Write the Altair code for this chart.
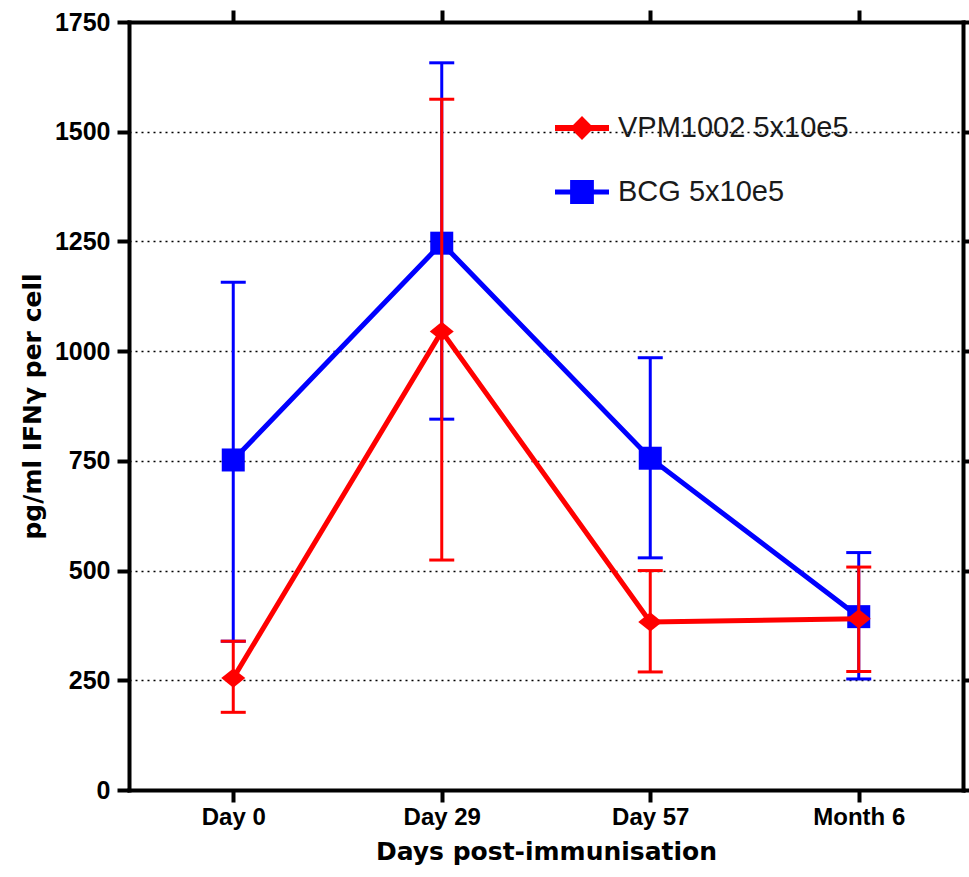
import altair as alt
import pandas as pd

# ---------------- data ----------------
categories = ["Day 0", "Day 29", "Day 57", "Month 6"]
series_names = ["VPM1002 5x10e5", "BCG 5x10e5"]

vpm_mean = [255, 1045, 383, 390]
vpm_low = [177, 524, 269, 270]
vpm_high = [339, 1574, 500, 508]

bcg_mean = [752, 1246, 756, 395]
bcg_low = [339, 845, 529, 253]
bcg_high = [1157, 1657, 985, 541]

y_ticks = [0, 250, 500, 750, 1000, 1250, 1500, 1750]

RED = "#ff0000"
BLUE = "#0000ff"

def series_df(name, mean, low, high):
    return pd.DataFrame({"day": categories, "series": name,
                         "mean": mean, "low": low, "high": high})

vpm_df = series_df(series_names[0], vpm_mean, vpm_low, vpm_high)
bcg_df = series_df(series_names[1], bcg_mean, bcg_low, bcg_high)
all_df = pd.concat([vpm_df, bcg_df], ignore_index=True)

# ---------------- scales / axes ----------------
xscale = alt.Scale(type="point", domain=categories, padding=0.5)
yscale = alt.Scale(domain=[0, 1750], nice=False, zero=True)

LABEL_FONT = "Liberation Sans"
TITLE_FONT = "DejaVu Sans"

axis_common = dict(domainColor="black", domainWidth=4, domainCap="square",
                   tickColor="black", tickWidth=4)

x_bottom = alt.Axis(orient="bottom", title="Days post-immunisation",
                    titleFont=TITLE_FONT, titleFontSize=25, titleFontWeight="bold",
                    titleColor="black", titlePadding=10,
                    labelFont=LABEL_FONT, labelFontSize=24, labelFontWeight="bold",
                    labelColor="black", labelPadding=3, labelAngle=0,
                    tickSize=12, grid=False, **axis_common)
x_top = alt.Axis(orient="top", title=None, labels=False, tickSize=12,
                 grid=False, **axis_common)
y_left = alt.Axis(orient="left", values=y_ticks, format="d",
                  title="pg/ml IFNγ per cell",
                  titleFont=TITLE_FONT, titleFontSize=25, titleFontWeight="bold",
                  titleColor="black", titlePadding=9,
                  labelFont=LABEL_FONT, labelFontSize=25, labelFontWeight="bold",
                  labelColor="black", labelPadding=7,
                  tickSize=12, grid=True, gridColor="black", gridDash=[2, 4],
                  gridWidth=1.5, gridOpacity=1, **axis_common)
y_right = alt.Axis(orient="right", values=y_ticks, title=None, labels=False,
                   tickSize=8, grid=False, **axis_common)

DIAMOND = "M-1,0L0,-0.8L1,0L0,0.8Z"
LEG_RED = ("M-1,-0.11L-0.33,-0.11L0,-0.44L0.33,-0.11L1,-0.11L1,0.11"
           "L0.33,0.11L0,0.44L-0.33,0.11L-1,0.11Z")
LEG_BLUE = ("M-1,-0.09L-0.44,-0.09L-0.44,-0.44L0.44,-0.44L0.44,-0.09L1,-0.09"
            "L1,0.09L0.44,0.09L0.44,0.44L-0.44,0.44L-0.44,0.09L-1,0.09Z")


def series_layers(df, color, shape, size, xaxis_a=None, yaxis_a=None,
                  xaxis_b=None, yaxis_b=None):
    base = alt.Chart(df)
    rules = base.mark_rule(color=color, strokeWidth=3).encode(
        x=alt.X("day:N", scale=xscale, axis=xaxis_a, sort=categories),
        y=alt.Y("low:Q", scale=yscale, axis=yaxis_a),
        y2="high:Q",
    )
    cap_low = base.mark_tick(color=color, size=25, thickness=3, opacity=1).encode(
        x=alt.X("day:N", scale=xscale, axis=xaxis_b, sort=categories),
        y=alt.Y("low:Q", scale=yscale, axis=yaxis_b),
    )
    cap_high = base.mark_tick(color=color, size=25, thickness=3, opacity=1).encode(
        x=alt.X("day:N", scale=xscale, axis=None, sort=categories),
        y=alt.Y("high:Q", scale=yscale, axis=None),
    )
    line = base.mark_line(color=color, strokeWidth=5).encode(
        x=alt.X("day:N", scale=xscale, axis=None, sort=categories),
        y=alt.Y("mean:Q", scale=yscale, axis=None),
    )
    pts = base.mark_point(filled=True, shape=shape, size=size, color=color,
                          opacity=1, strokeWidth=0).encode(
        x=alt.X("day:N", scale=xscale, axis=None, sort=categories),
        y=alt.Y("mean:Q", scale=yscale, axis=None),
    )
    return [rules, cap_low, cap_high, line, pts]


blue_layers = series_layers(bcg_df, BLUE, "square", 529,
                            xaxis_a=x_bottom, yaxis_a=y_left,
                            xaxis_b=x_top, yaxis_b=y_right)
red_layers = series_layers(vpm_df, RED, DIAMOND, 576)

leg = alt.Legend(title=None, orient="none", legendX=426, legendY=79,
                 symbolSize=2916, symbolStrokeWidth=0,
                 labelFont=LABEL_FONT, labelFontSize=29, labelColor="#1a1a1a",
                 labelOffset=9, rowPadding=22, padding=0, labelLimit=500)

legend_layer = alt.Chart(all_df).transform_filter("false").mark_point(
    filled=True, opacity=1, strokeWidth=0
).encode(
    x=alt.X("day:N", scale=xscale, axis=None, sort=categories),
    y=alt.Y("mean:Q", scale=yscale, axis=None),
    color=alt.Color("series:N", scale=alt.Scale(domain=series_names, range=[RED, BLUE]),
                    legend=leg),
    shape=alt.Shape("series:N", scale=alt.Scale(domain=series_names, range=[LEG_RED, LEG_BLUE]),
                    legend=leg),
)

chart = alt.layer(*blue_layers, *red_layers, legend_layer).resolve_axis(
    x="independent", y="independent"
).properties(
    width=834, height=768,
    autosize=alt.AutoSizeParams(type="none"),
    padding={"left": 129, "top": 22, "right": 6, "bottom": 87},
    background="white",
).configure_view(stroke=None)

chart.save("out.html", embed_options={"renderer": "svg", "actions": False})
